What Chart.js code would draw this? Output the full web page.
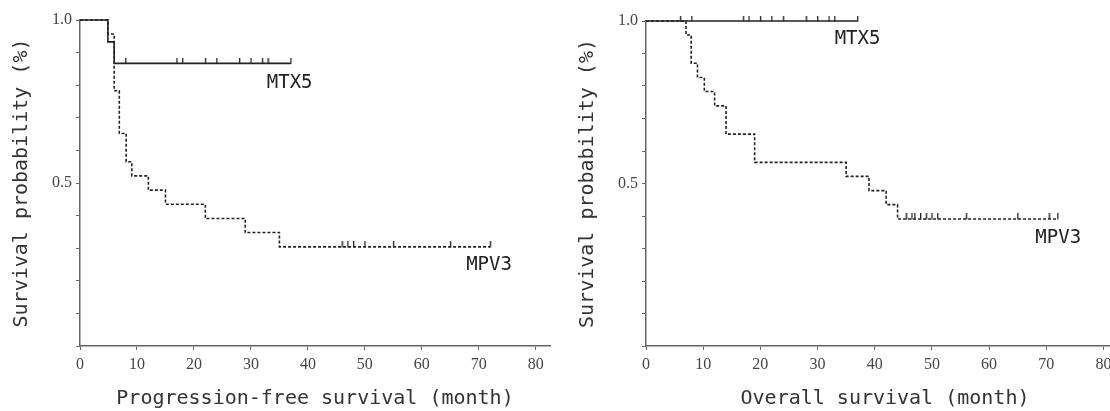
<!DOCTYPE html>
<html>
<head>
<meta charset="UTF-8">
<title>Survival curves MTX5 / MPV3</title>
<script src="https://cdn.jsdelivr.net/npm/chart.js@4.4.1/dist/chart.umd.min.js"></script>
<style>
  body { margin:0; background:#fff; width:1110px; height:411px; overflow:hidden; position:relative; }
  #pfs-box { position:absolute; left:0; top:0; width:560px; height:411px; }
  #os-box { position:absolute; left:560px; top:0; width:570px; height:411px; }
</style>
</head>
<body>
<div id="pfs-box"><canvas id="pfs" width="560" height="411"></canvas></div>
<div id="os-box"><canvas id="os" width="570" height="411"></canvas></div>
<script>
// progression-free survival: step times (month) and survival after each step
var pfsMtxTime = [0, 4.9, 6, 37];
var pfsMtxSurv = [1.0, 0.933, 0.867, 0.867];
var pfsMtxCensor = [8, 17, 18, 22, 24, 28, 30, 32, 33, 37];
var pfsMpvTime = [0, 4.9, 6, 6.9, 8.1, 9.1, 12, 15, 22, 29, 35, 72];
var pfsMpvSurv = [1.0, 0.957, 0.783, 0.652, 0.565, 0.522, 0.478, 0.435, 0.391, 0.348, 0.304, 0.304];
var pfsMpvCensor = [46, 47, 48, 50, 55, 65, 72];

// overall survival
var osMtxTime = [0, 37];
var osMtxSurv = [1.0, 1.0];
var osMtxCensor = [6, 8, 17, 18, 20, 22, 24, 28, 30, 32, 33, 37];
var osMpvTime = [0, 7, 7.9, 9, 10.2, 12, 14, 19, 35, 39, 42, 44, 72];
var osMpvSurv = [1.0, 0.957, 0.870, 0.826, 0.783, 0.739, 0.652, 0.565, 0.522, 0.478, 0.435, 0.391, 0.391];
var osMpvCensor = [45.5, 46.5, 47, 48, 49, 50, 51, 56, 65, 70.5, 72];

var groupNames = ['MTX5', 'MPV3'];
var xTitles = ['Progression-free survival (month)', 'Overall survival (month)'];
var yTitle = 'Survival probability (%)';
var yLabelValues = [0.5, 1.0];

var ink = '#222';
var axisGrey = '#666';
var gothic = '"DejaVu Sans Mono", monospace';
var serif = '"Liberation Serif", "Times New Roman", serif';

function steps(t, s) {
  return t.map(function (v, i) { return { x: v, y: s[i] }; });
}

// survival value at a censor time
function censorPoints(ct, t, s) {
  return ct.map(function (c) {
    var v = s[0];
    for (var i = 0; i < t.length; i++) { if (t[i] <= c) v = s[i]; }
    return { x: c, y: v };
  });
}

function censorMark() {
  var c = document.createElement('canvas');
  c.width = 3; c.height = 11;
  var g = c.getContext('2d');
  g.fillStyle = ink;
  g.fillRect(1, 0, 1.3, 6);
  return c;
}
var mark = censorMark();

// group names next to the end of each curve
var groupLabels = {
  id: 'groupLabels',
  afterDatasetsDraw: function (chart, args, opts) {
    var ctx = chart.ctx, xs = chart.scales.x, ys = chart.scales.y;
    ctx.save();
    ctx.font = '19px ' + gothic;
    ctx.fillStyle = '#222';
    ctx.textAlign = 'center';
    ctx.textBaseline = 'middle';
    opts.items.forEach(function (it) {
      ctx.fillText(it.text, xs.getPixelForValue(it.x), ys.getPixelForValue(it.y));
    });
    ctx.restore();
  }
};

function makeChart(id, mtxT, mtxS, mtxC, mpvT, mpvS, mpvC, title, xMax, yWidth, padTop, padRight, titlePad, labels) {
  return new Chart(document.getElementById(id), {
    type: 'scatter',
    data: {
      datasets: [
        { label: groupNames[0], data: steps(mtxT, mtxS), showLine: true, stepped: true, clip: false,
          borderColor: ink, borderWidth: 1.6, pointRadius: 0, fill: false },
        { label: groupNames[1], data: steps(mpvT, mpvS), showLine: true, stepped: true, clip: false,
          borderColor: ink, borderWidth: 1.6, borderDash: [3, 2], pointRadius: 0, fill: false },
        { data: censorPoints(mtxC, mtxT, mtxS), pointStyle: mark, pointRadius: 5, showLine: false, clip: false },
        { data: censorPoints(mpvC, mpvT, mpvS), pointStyle: mark, pointRadius: 5, showLine: false, clip: false }
      ]
    },
    options: {
      responsive: false,
      animation: false,
      devicePixelRatio: 1,
      layout: { padding: { top: padTop, right: padRight, left: 0, bottom: 0 } },
      plugins: {
        legend: { display: false },
        tooltip: { enabled: false },
        groupLabels: { items: labels }
      },
      scales: {
        x: {
          type: 'linear', min: 0, max: xMax,
          afterFit: function (s) { s.height = 65; },
          ticks: { stepSize: 10, includeBounds: false, color: '#444', padding: 5,
                   font: { family: serif, size: 16 } },
          grid: { drawOnChartArea: false, drawTicks: true, tickLength: 4, color: axisGrey },
          border: { display: true, color: axisGrey, width: 1.5 },
          title: { display: true, text: title, color: '#333', padding: { top: 0, bottom: 0 },
                   font: { family: gothic, size: 20 } }
        },
        y: {
          type: 'linear', min: 0, max: 1,
          afterFit: function (s) { s.width = yWidth; },
          ticks: {
            stepSize: 0.1, includeBounds: false, color: '#444', padding: 4,
            font: { family: serif, size: 16 },
            callback: function (v) {
              for (var i = 0; i < yLabelValues.length; i++) {
                if (Math.abs(v - yLabelValues[i]) < 1e-6) return yLabelValues[i].toFixed(1);
              }
              return '';
            }
          },
          grid: { drawOnChartArea: false, drawTicks: true, tickLength: 4, color: axisGrey },
          border: { display: true, color: axisGrey, width: 1.5 },
          title: { display: true, text: yTitle, color: '#333', padding: { top: titlePad, bottom: 0 },
                   font: { family: gothic, size: 20 } }
        }
      }
    },
    plugins: [groupLabels]
  });
}

makeChart('pfs', pfsMtxTime, pfsMtxSurv, pfsMtxCensor, pfsMpvTime, pfsMpvSurv, pfsMpvCensor,
  xTitles[0], 82.5, 80, 20, 10, 10,
  [{ text: groupNames[0], x: 36.8, y: 0.807 }, { text: groupNames[1], x: 71.8, y: 0.248 }]);

makeChart('os', osMtxTime, osMtxSurv, osMtxCensor, osMpvTime, osMpvSurv, osMpvCensor,
  xTitles[1], 83.6, 86, 21, 0, 16,
  [{ text: groupNames[0], x: 37, y: 0.944 }, { text: groupNames[1], x: 72.1, y: 0.333 }]);
</script>
</body>
</html>
